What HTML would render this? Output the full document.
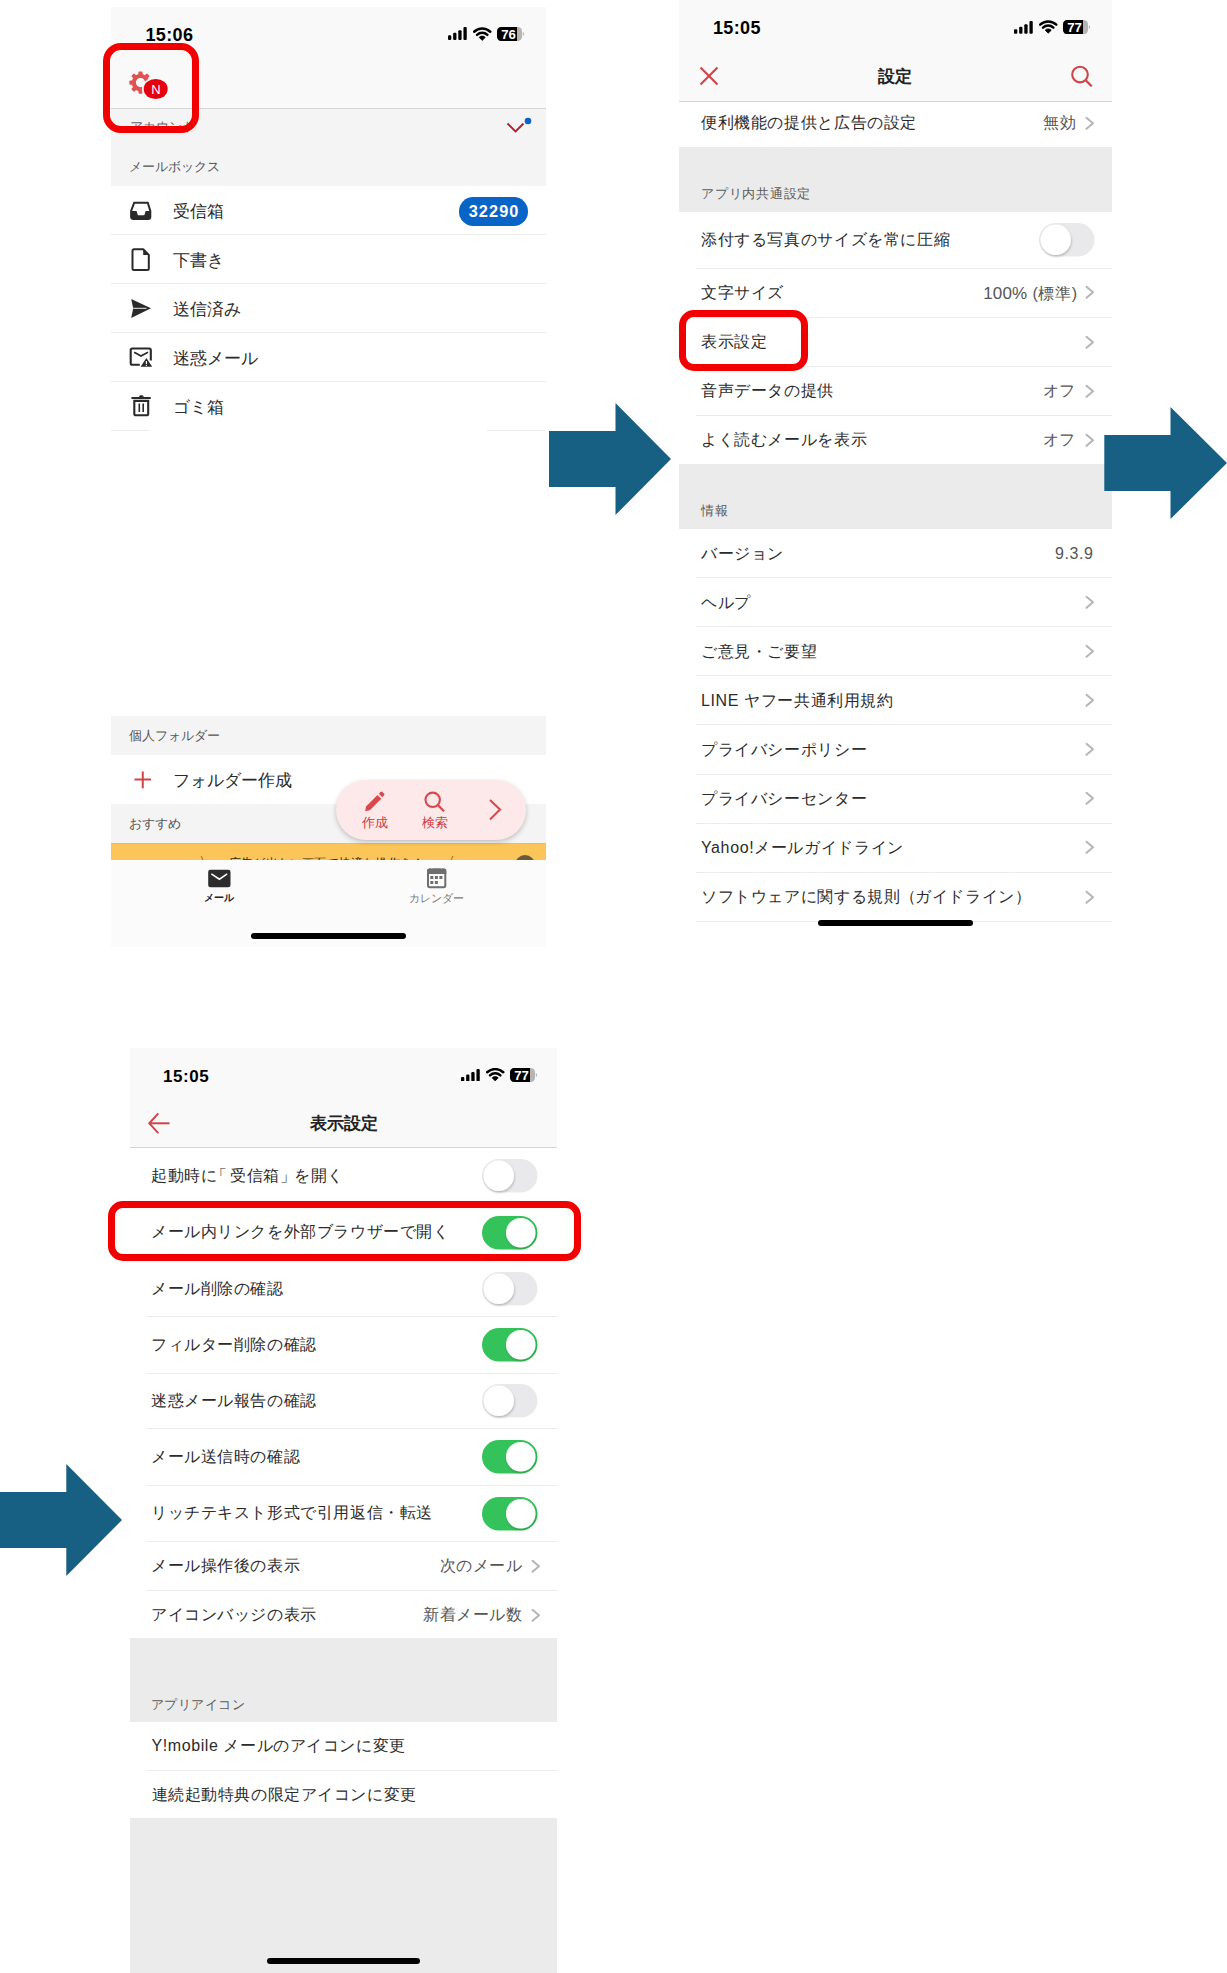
<!DOCTYPE html><html lang="ja"><head><meta charset="utf-8"><title>mail settings</title>
<style>html,body{margin:0;padding:0;background:#fff;} body{width:1227px;height:1973px;position:relative;overflow:hidden;font-family:"Liberation Sans", sans-serif;}</style></head><body>
<div style="position:absolute;left:111px;top:7px;width:435px;height:101px;background:#f9f9f9;"></div>
<div style="position:absolute;left:111px;top:108px;width:435px;height:1px;background:#d5d5d5;"></div>
<div style="position:absolute;left:111px;top:109px;width:435px;height:77px;background:#f4f4f4;"></div>
<div style="position:absolute;left:111px;top:186px;width:435px;height:530px;background:#ffffff;"></div>
<div style="position:absolute;left:111px;top:234px;width:435px;height:1px;background:#ebebeb;"></div>
<div style="position:absolute;left:111px;top:283px;width:435px;height:1px;background:#ebebeb;"></div>
<div style="position:absolute;left:111px;top:332px;width:435px;height:1px;background:#ebebeb;"></div>
<div style="position:absolute;left:111px;top:381px;width:435px;height:1px;background:#ebebeb;"></div>
<div style="position:absolute;left:111px;top:430px;width:39px;height:1px;background:#ebebeb;"></div>
<div style="position:absolute;left:487px;top:430px;width:59px;height:1px;background:#ebebeb;"></div>
<div style="position:absolute;left:111px;top:716px;width:435px;height:39px;background:#f4f4f4;"></div>
<div style="position:absolute;left:111px;top:755px;width:435px;height:49px;background:#ffffff;"></div>
<div style="position:absolute;left:111px;top:804px;width:435px;height:39px;background:#f4f4f4;"></div>
<div style="position:absolute;left:111px;top:843px;width:435px;height:17px;background:#fcc55a;"></div>
<div style="position:absolute;left:111px;top:843px;width:435px;height:1px;background:#ebbd62;"></div>
<div style="position:absolute;left:111px;top:860px;width:435px;height:87px;background:#fbfbfb;"></div>
<div style="position:absolute;left:251px;top:933px;width:155px;height:5.5px;background:#000;border-radius:3px"></div>
<div style="position:absolute;left:145.5px;top:25.53px;font-size:18px;line-height:18px;color:#000;font-weight:bold;white-space:nowrap;letter-spacing:0.35px;">15:06</div>
<svg style="position:absolute;left:448px;top:27.3px;" width="20" height="12.999999999999996" viewBox="0 0 20 12.999999999999996"><rect x="0.00" y="8.32" width="3.3" height="4.68" rx="1.1" fill="#000"/><rect x="5.15" y="5.85" width="3.3" height="7.15" rx="1.1" fill="#000"/><rect x="10.30" y="3.25" width="3.3" height="9.75" rx="1.1" fill="#000"/><rect x="15.45" y="0.00" width="3.3" height="13.00" rx="1.1" fill="#000"/></svg>
<svg style="position:absolute;left:473px;top:26.6px;" width="19" height="13.999999999999996" viewBox="0 0 19 13.999999999999996"><path d="M9.2 13.399999999999997 L6.16 10.36 A4.3 4.3 0 0 1 12.24 10.36 Z" fill="#000" stroke="#000" stroke-width="0.8" stroke-linejoin="round"/>
<path d="M4.02 7.84 A7.6 7.6 0 0 1 14.38 7.84" stroke="#000" stroke-width="2.5" fill="none" stroke-linecap="round"/>
<path d="M1.15 4.77 A11.8 11.8 0 0 1 17.25 4.77" stroke="#000" stroke-width="2.5" fill="none" stroke-linecap="round"/></svg>
<svg style="position:absolute;left:497px;top:27px;" width="28" height="14" viewBox="0 0 28 14"><rect x="0" y="0" width="25" height="14" rx="4.2" fill="#b5b5b5"/>
<path d="M4.2 0 H20.0 V14 H4.2 A4.2 4.2 0 0 1 0 9.8 V4.2 A4.2 4.2 0 0 1 4.2 0 Z" fill="#000"/>
<path d="M25.8 5.1 A2 2 0 0 1 25.8 8.9 Z" fill="#b5b5b5"/>
<text x="11.5" y="11.6" font-family="Liberation Sans" font-weight="bold" font-size="13.2" fill="#fff" text-anchor="middle">76</text></svg>
<svg style="position:absolute;left:128px;top:70px;" width="45" height="35" viewBox="0 0 45 35">
<g transform="translate(12.5,12.6)">
<circle r="6.7" fill="none" stroke="#df5352" stroke-width="4.2"/>
<rect x="-2.1" y="-11.2" width="4.2" height="5" rx="1" transform="rotate(0)" fill="#df5352"/><rect x="-2.1" y="-11.2" width="4.2" height="5" rx="1" transform="rotate(45)" fill="#df5352"/><rect x="-2.1" y="-11.2" width="4.2" height="5" rx="1" transform="rotate(90)" fill="#df5352"/><rect x="-2.1" y="-11.2" width="4.2" height="5" rx="1" transform="rotate(135)" fill="#df5352"/><rect x="-2.1" y="-11.2" width="4.2" height="5" rx="1" transform="rotate(180)" fill="#df5352"/><rect x="-2.1" y="-11.2" width="4.2" height="5" rx="1" transform="rotate(225)" fill="#df5352"/><rect x="-2.1" y="-11.2" width="4.2" height="5" rx="1" transform="rotate(270)" fill="#df5352"/><rect x="-2.1" y="-11.2" width="4.2" height="5" rx="1" transform="rotate(315)" fill="#df5352"/>
</g>
<ellipse cx="27.7" cy="19" rx="13.7" ry="11.8" fill="#f9f9f9"/>
<ellipse cx="27.7" cy="19" rx="12" ry="10.1" fill="#e5000f"/>
<text x="27.9" y="23.7" font-family="Liberation Sans" font-size="13" fill="#fff" text-anchor="middle">N</text>
</svg>
<div style="position:absolute;left:130px;top:120.62px;font-size:12.5px;line-height:12.5px;color:#666;font-weight:normal;white-space:nowrap;">アカウント</div>
<svg style="position:absolute;left:505px;top:116px;" width="28" height="20" viewBox="0 0 28 20"><polyline points="2.5,7.5 10.5,15.5 18.5,7.5" fill="none" stroke="#b01c2e" stroke-width="1.8"/><circle cx="23" cy="5" r="3.3" fill="#0a64c8"/></svg>
<div style="position:absolute;left:129px;top:159.67px;font-size:13px;line-height:13px;color:#555;font-weight:normal;white-space:nowrap;">メールボックス</div>
<div style="position:absolute;left:172.7px;top:202.93px;font-size:17px;line-height:17px;color:#2b2b2b;font-weight:normal;white-space:nowrap;">受信箱</div>
<div style="position:absolute;left:172.7px;top:252.13px;font-size:17px;line-height:17px;color:#2b2b2b;font-weight:normal;white-space:nowrap;">下書き</div>
<div style="position:absolute;left:172.7px;top:300.93px;font-size:17px;line-height:17px;color:#2b2b2b;font-weight:normal;white-space:nowrap;">送信済み</div>
<div style="position:absolute;left:172.7px;top:349.93px;font-size:17px;line-height:17px;color:#2b2b2b;font-weight:normal;white-space:nowrap;">迷惑メール</div>
<div style="position:absolute;left:172.7px;top:398.73px;font-size:17px;line-height:17px;color:#2b2b2b;font-weight:normal;white-space:nowrap;">ゴミ箱</div>
<svg style="position:absolute;left:130px;top:200px;" width="23" height="21" viewBox="0 0 23 21"><path d="M4.2,2.7 H17.8 L20.3,11 V17 A2 2 0 0 1 18.3,19 H3.1 A2 2 0 0 1 1.1,17 V11 Z" fill="none" stroke="#2a2a2a" stroke-width="2"/>
<path d="M1.1,11 H6.5 L7.9,15.3 H14.3 L15.7,11 H20.3 V17 A2 2 0 0 1 18.3,19 H3.1 A2 2 0 0 1 1.1,17 Z" fill="#2a2a2a"/></svg>
<svg style="position:absolute;left:131px;top:247px;" width="21" height="25" viewBox="0 0 21 25"><path d="M3,2.3 H12.2 L17.8,7.9 V21.5 A1.5 1.5 0 0 1 16.3,23 H3 A1.5 1.5 0 0 1 1.5,21.5 V3.8 A1.5 1.5 0 0 1 3,2.3 Z" fill="none" stroke="#2a2a2a" stroke-width="2" stroke-linejoin="round"/>
<path d="M12.2,2.3 L17.8,7.9 H12.2 Z" fill="#2a2a2a"/></svg>
<svg style="position:absolute;left:130px;top:298px;" width="23" height="22" viewBox="0 0 23 22"><path d="M1.2,0.9 L21,10.3 L1.2,20 L3.2,10.3 Z" fill="#2a2a2a"/><line x1="3.2" y1="10.3" x2="16.5" y2="10.3" stroke="#fff" stroke-width="0.9"/></svg>
<svg style="position:absolute;left:129px;top:347px;" width="25" height="21" viewBox="0 0 25 21"><path d="M10.8,17.7 H3.2 A1.5 1.5 0 0 1 1.7,16.2 V3 A1.5 1.5 0 0 1 3.2,1.5 H20.3 A1.5 1.5 0 0 1 21.8,3 V13.5" fill="none" stroke="#2a2a2a" stroke-width="2.1"/>
<polyline points="5.2,5.2 12,9 19,5.2" fill="none" stroke="#2a2a2a" stroke-width="1.7"/>
<path d="M17.4,11 L23.2,19.7 H11.6 Z" fill="#2a2a2a"/><rect x="16.8" y="14" width="1.2" height="3" fill="#fff"/><rect x="16.8" y="17.8" width="1.2" height="1.1" fill="#fff"/></svg>
<svg style="position:absolute;left:131px;top:394px;" width="21" height="25" viewBox="0 0 21 25"><line x1="1.2" y1="4.1" x2="19" y2="4.1" stroke="#2a2a2a" stroke-width="2" stroke-linecap="round"/><rect x="8" y="1.2" width="4.6" height="3" rx="1.5" fill="#2a2a2a"/>
<path d="M3.3,6.9 H17.2 V19.8 A1.5 1.5 0 0 1 15.7,21.3 H4.8 A1.5 1.5 0 0 1 3.3,19.8 Z" fill="none" stroke="#2a2a2a" stroke-width="2.1"/>
<line x1="8.3" y1="9.5" x2="8.3" y2="18" stroke="#2a2a2a" stroke-width="1.6"/><line x1="12.2" y1="9.5" x2="12.2" y2="18" stroke="#2a2a2a" stroke-width="1.6"/></svg>
<div style="position:absolute;left:459px;top:197px;width:69px;height:28.5px;border-radius:14.25px;background:#0964c7;"></div>
<div style="position:absolute;left:294.1px;width:400px;text-align:center;top:203.46px;font-size:16.3px;line-height:16.3px;color:#fff;font-weight:bold;white-space:nowrap;letter-spacing:1.1px;">32290</div>
<div style="position:absolute;left:128.5px;top:728.97px;font-size:13px;line-height:13px;color:#555;font-weight:normal;white-space:nowrap;">個人フォルダー</div>
<svg style="position:absolute;left:133px;top:770px;" width="20" height="20" viewBox="0 0 20 20"><line x1="1.5" y1="9.5" x2="18" y2="9.5" stroke="#cf4448" stroke-width="2"/><line x1="9.75" y1="1.5" x2="9.75" y2="18.3" stroke="#cf4448" stroke-width="2"/></svg>
<div style="position:absolute;left:172.7px;top:772.33px;font-size:17px;line-height:17px;color:#2b2b2b;font-weight:normal;white-space:nowrap;">フォルダー作成</div>
<div style="position:absolute;left:128.5px;top:817.27px;font-size:13px;line-height:13px;color:#555;font-weight:normal;white-space:nowrap;">おすすめ</div>
<div style="position:absolute;left:111px;top:843px;width:435px;height:17px;overflow:hidden;"><div style="position:absolute;left:88px;top:12px;font-size:14px;line-height:14px;color:#3a2a00;white-space:nowrap">〉</div><div style="position:absolute;left:118px;top:12.5px;font-size:12px;line-height:14px;letter-spacing:0.2px;color:#3a2a00;white-space:nowrap">広告が出ない画面で快適な操作を！</div><div style="position:absolute;left:330px;top:12px;font-size:14px;line-height:14px;color:#3a2a00;white-space:nowrap">〈</div><div style="position:absolute;left:404px;top:12px;width:20px;height:20px;border-radius:10px;background:#6b5a3a"></div></div>
<svg style="position:absolute;left:207px;top:869px;" width="25" height="20" viewBox="0 0 25 20"><rect x="1.2" y="0.8" width="22.3" height="17.5" rx="2.3" fill="#2d2d2d"/><polyline points="4.3,4.9 12.4,10.2 20.2,4.9" fill="none" stroke="#fff" stroke-width="1.6"/></svg>
<div style="position:absolute;left:19.400000000000006px;width:400px;text-align:center;top:893.40px;font-size:10px;line-height:10px;color:#222;font-weight:bold;white-space:nowrap;">メール</div>
<svg style="position:absolute;left:426px;top:867px;" width="22" height="22" viewBox="0 0 22 22"><path d="M1,4 A2.5 2.5 0 0 1 3.5,1.5 H17.8 A2.5 2.5 0 0 1 20.3,4 V7 H1 Z" fill="#6e6e6e"/><rect x="5" y="0" width="1.6" height="2.6" fill="#fbfbfb"/><rect x="14.7" y="0" width="1.6" height="2.6" fill="#fbfbfb"/>
<rect x="2" y="2.5" width="17.3" height="17.8" rx="1.8" fill="none" stroke="#6e6e6e" stroke-width="2"/>
<rect x="4.3" y="9" width="3" height="3" fill="#6e6e6e"/><rect x="8.9" y="9" width="3" height="3" fill="#6e6e6e"/><rect x="13.4" y="9" width="3" height="3" fill="#6e6e6e"/>
<rect x="4.3" y="14" width="3" height="3" fill="#6e6e6e"/><rect x="8.9" y="14" width="3" height="3" fill="#6e6e6e"/></svg>
<div style="position:absolute;left:236.5px;width:400px;text-align:center;top:892.69px;font-size:10.8px;line-height:10.8px;color:#7a7a7a;font-weight:normal;white-space:nowrap;">カレンダー</div>
<div style="position:absolute;left:336px;top:780px;width:189.5px;height:60px;border-radius:30px;background:#fde9e9;box-shadow:0 2px 5px rgba(0,0,0,0.22);"></div>
<svg style="position:absolute;left:362px;top:790px;" width="25" height="24" viewBox="0 0 25 24"><path d="M4,16.5 L15.5,5 L19.3,8.8 L7.8,20.3 L3.2,21.3 Z" fill="#d64a4e"/><path d="M16.8,3.7 L18.5,2 A1.4 1.4 0 0 1 20.5,2 L22,3.5 A1.4 1.4 0 0 1 22,5.5 L20.3,7.2 Z" fill="#d64a4e"/></svg>
<div style="position:absolute;left:174.5px;width:400px;text-align:center;top:815.67px;font-size:13px;line-height:13px;color:#c9393f;font-weight:normal;white-space:nowrap;">作成</div>
<svg style="position:absolute;left:422px;top:790px;" width="26" height="24" viewBox="0 0 26 24"><circle cx="10.7" cy="9.8" r="7.2" fill="none" stroke="#d64a4e" stroke-width="2.1"/><line x1="15.8" y1="15" x2="22" y2="21.3" stroke="#d64a4e" stroke-width="2.3"/></svg>
<div style="position:absolute;left:234.7px;width:400px;text-align:center;top:815.87px;font-size:13px;line-height:13px;color:#c9393f;font-weight:normal;white-space:nowrap;">検索</div>
<svg style="position:absolute;left:487px;top:797px;" width="17" height="26" viewBox="0 0 17 26"><polyline points="3,3 13,12.6 3,22.5" fill="none" stroke="#d64a4e" stroke-width="2.1"/></svg>
<div style="position:absolute;left:103px;top:42.5px;width:96px;height:90.0px;box-sizing:border-box;border:7px solid #f20000;border-radius:18px;"></div>
<div style="position:absolute;left:679px;top:0px;width:432.5px;height:100.5px;background:#f9f9f9;"></div>
<div style="position:absolute;left:679px;top:100.5px;width:432.5px;height:1.0px;background:#d5d5d5;"></div>
<div style="position:absolute;left:679px;top:101.5px;width:432.5px;height:45.69999999999999px;background:#ffffff;"></div>
<div style="position:absolute;left:679px;top:147.2px;width:432.5px;height:64.5px;background:#ebebeb;"></div>
<div style="position:absolute;left:679px;top:211.7px;width:432.5px;height:252.3px;background:#ffffff;"></div>
<div style="position:absolute;left:696px;top:267.6px;width:415.5px;height:1.0px;background:#ebebeb;"></div>
<div style="position:absolute;left:696px;top:317px;width:415.5px;height:1px;background:#ebebeb;"></div>
<div style="position:absolute;left:696px;top:366.2px;width:415.5px;height:1.0px;background:#ebebeb;"></div>
<div style="position:absolute;left:696px;top:415.2px;width:415.5px;height:1.0px;background:#ebebeb;"></div>
<div style="position:absolute;left:679px;top:464px;width:432.5px;height:64.70000000000005px;background:#ebebeb;"></div>
<div style="position:absolute;left:679px;top:528.7px;width:432.5px;height:392.79999999999995px;background:#ffffff;"></div>
<div style="position:absolute;left:696px;top:577.2px;width:415.5px;height:1.0px;background:#ebebeb;"></div>
<div style="position:absolute;left:696px;top:626.2px;width:415.5px;height:1.0px;background:#ebebeb;"></div>
<div style="position:absolute;left:696px;top:675.3px;width:415.5px;height:1.0px;background:#ebebeb;"></div>
<div style="position:absolute;left:696px;top:724.4px;width:415.5px;height:1.0px;background:#ebebeb;"></div>
<div style="position:absolute;left:696px;top:773.5px;width:415.5px;height:1.0px;background:#ebebeb;"></div>
<div style="position:absolute;left:696px;top:822.6px;width:415.5px;height:1.0px;background:#ebebeb;"></div>
<div style="position:absolute;left:696px;top:871.7px;width:415.5px;height:1.0px;background:#ebebeb;"></div>
<div style="position:absolute;left:696px;top:920.8px;width:415.5px;height:1.0px;background:#ebebeb;"></div>
<div style="position:absolute;left:818px;top:920.3px;width:154.5px;height:6.2000000000000455px;background:#000;border-radius:3px"></div>
<div style="position:absolute;left:713.0px;top:18.73px;font-size:18px;line-height:18px;color:#000;font-weight:bold;white-space:nowrap;letter-spacing:0.35px;">15:05</div>
<svg style="position:absolute;left:1014px;top:21.0px;" width="20" height="12.799999999999997" viewBox="0 0 20 12.799999999999997"><rect x="0.00" y="8.19" width="3.3" height="4.61" rx="1.1" fill="#000"/><rect x="5.15" y="5.76" width="3.3" height="7.04" rx="1.1" fill="#000"/><rect x="10.30" y="3.20" width="3.3" height="9.60" rx="1.1" fill="#000"/><rect x="15.45" y="0.00" width="3.3" height="12.80" rx="1.1" fill="#000"/></svg>
<svg style="position:absolute;left:1039px;top:20.3px;" width="19" height="13.799999999999997" viewBox="0 0 19 13.799999999999997"><path d="M9.2 13.199999999999998 L6.16 10.16 A4.3 4.3 0 0 1 12.24 10.16 Z" fill="#000" stroke="#000" stroke-width="0.8" stroke-linejoin="round"/>
<path d="M4.02 7.64 A7.6 7.6 0 0 1 14.38 7.64" stroke="#000" stroke-width="2.5" fill="none" stroke-linecap="round"/>
<path d="M1.15 4.57 A11.8 11.8 0 0 1 17.25 4.57" stroke="#000" stroke-width="2.5" fill="none" stroke-linecap="round"/></svg>
<svg style="position:absolute;left:1063.2px;top:20px;" width="28" height="14.200000000000003" viewBox="0 0 28 14.200000000000003"><rect x="0" y="0" width="25" height="14.200000000000003" rx="4.2" fill="#b5b5b5"/>
<path d="M4.2 0 H20.0 V14.200000000000003 H4.2 A4.2 4.2 0 0 1 0 10.000000000000004 V4.2 A4.2 4.2 0 0 1 4.2 0 Z" fill="#000"/>
<path d="M25.8 5.200000000000001 A2 2 0 0 1 25.8 9.000000000000002 Z" fill="#b5b5b5"/>
<text x="11.5" y="11.800000000000002" font-family="Liberation Sans" font-weight="bold" font-size="13.2" fill="#fff" text-anchor="middle">77</text></svg>
<svg style="position:absolute;left:699px;top:66px;" width="20" height="20" viewBox="0 0 20 20"><line x1="1.5" y1="1.5" x2="18.5" y2="18.5" stroke="#cf4448" stroke-width="2.1"/><line x1="18.5" y1="1.5" x2="1.5" y2="18.5" stroke="#cf4448" stroke-width="2.1"/></svg>
<div style="position:absolute;left:695px;width:400px;text-align:center;top:67.68px;font-size:17.3px;line-height:17.3px;color:#222;font-weight:bold;white-space:nowrap;">設定</div>
<svg style="position:absolute;left:1070px;top:65px;" width="24" height="24" viewBox="0 0 24 24"><circle cx="10" cy="9.6" r="7.8" fill="none" stroke="#cf4448" stroke-width="2.1"/><line x1="15.7" y1="15.3" x2="21.7" y2="21.3" stroke="#cf4448" stroke-width="2.3"/></svg>
<div style="position:absolute;left:701px;top:115.14px;font-size:16px;line-height:16px;color:#2b2b2b;font-weight:normal;white-space:nowrap;letter-spacing:0.62px;">便利機能の提供と広告の設定</div>
<div style="position:absolute;right:150.38px;top:115.34px;font-size:16px;line-height:16px;color:#555;font-weight:normal;white-space:nowrap;letter-spacing:0.62px;">無効</div>
<svg style="position:absolute;left:1085px;top:116px;" width="10" height="15" viewBox="0 0 10 15"><polyline points="1.5,1.8 8,7.2 1.5,12.8" fill="none" stroke="#b6b6b8" stroke-width="2.1" stroke-linecap="round" stroke-linejoin="round"/></svg>
<div style="position:absolute;left:701px;top:187.07px;font-size:13px;line-height:13px;color:#5a5a5a;font-weight:normal;white-space:nowrap;letter-spacing:0.75px;">アプリ内共通設定</div>
<div style="position:absolute;left:701px;top:232.14px;font-size:16px;line-height:16px;color:#2b2b2b;font-weight:normal;white-space:nowrap;letter-spacing:0.62px;">添付する写真のサイズを常に圧縮</div>
<svg style="position:absolute;left:1038.5px;top:223px;overflow:visible" width="55.5" height="33.5" viewBox="0 0 55.5 33.5"><defs><filter id="ks" x="-50%" y="-50%" width="200%" height="200%"><feDropShadow dx="0.6" dy="1.6" stdDeviation="1.3" flood-color="#000" flood-opacity="0.22"/></filter></defs><rect x="0" y="0" width="55.5" height="33.5" rx="16.75" fill="#e9e9eb"/><circle cx="16.75" cy="16.75" r="15.15" fill="#fff" filter="url(#ks)"/></svg>
<div style="position:absolute;left:701px;top:285.34px;font-size:16px;line-height:16px;color:#2b2b2b;font-weight:normal;white-space:nowrap;letter-spacing:0.62px;">文字サイズ</div>
<div style="position:absolute;right:149.38px;top:285.84px;font-size:16px;line-height:16px;color:#555;font-weight:normal;white-space:nowrap;letter-spacing:0.62px;"><span style="font-size:17px;letter-spacing:0.2px">100%</span> (標準)</div>
<svg style="position:absolute;left:1085px;top:285px;" width="10" height="15" viewBox="0 0 10 15"><polyline points="1.5,1.8 8,7.2 1.5,12.8" fill="none" stroke="#b6b6b8" stroke-width="2.1" stroke-linecap="round" stroke-linejoin="round"/></svg>
<div style="position:absolute;left:701px;top:334.34px;font-size:16px;line-height:16px;color:#2b2b2b;font-weight:normal;white-space:nowrap;letter-spacing:0.62px;">表示設定</div>
<svg style="position:absolute;left:1085px;top:334.5px;" width="10" height="15" viewBox="0 0 10 15"><polyline points="1.5,1.8 8,7.2 1.5,12.8" fill="none" stroke="#b6b6b8" stroke-width="2.1" stroke-linecap="round" stroke-linejoin="round"/></svg>
<div style="position:absolute;left:701px;top:383.34px;font-size:16px;line-height:16px;color:#2b2b2b;font-weight:normal;white-space:nowrap;letter-spacing:0.62px;">音声データの提供</div>
<div style="position:absolute;right:150.88px;top:383.34px;font-size:16px;line-height:16px;color:#555;font-weight:normal;white-space:nowrap;letter-spacing:0.62px;">オフ</div>
<svg style="position:absolute;left:1085px;top:383.5px;" width="10" height="15" viewBox="0 0 10 15"><polyline points="1.5,1.8 8,7.2 1.5,12.8" fill="none" stroke="#b6b6b8" stroke-width="2.1" stroke-linecap="round" stroke-linejoin="round"/></svg>
<div style="position:absolute;left:701px;top:432.34px;font-size:16px;line-height:16px;color:#2b2b2b;font-weight:normal;white-space:nowrap;letter-spacing:0.62px;">よく読むメールを表示</div>
<div style="position:absolute;right:150.88px;top:432.34px;font-size:16px;line-height:16px;color:#555;font-weight:normal;white-space:nowrap;letter-spacing:0.62px;">オフ</div>
<svg style="position:absolute;left:1085px;top:432.5px;" width="10" height="15" viewBox="0 0 10 15"><polyline points="1.5,1.8 8,7.2 1.5,12.8" fill="none" stroke="#b6b6b8" stroke-width="2.1" stroke-linecap="round" stroke-linejoin="round"/></svg>
<div style="position:absolute;left:701px;top:504.17px;font-size:13px;line-height:13px;color:#5a5a5a;font-weight:normal;white-space:nowrap;letter-spacing:0.75px;">情報</div>
<div style="position:absolute;left:701px;top:545.84px;font-size:16px;line-height:16px;color:#2b2b2b;font-weight:normal;white-space:nowrap;letter-spacing:0.62px;">バージョン</div>
<div style="position:absolute;left:701px;top:594.64px;font-size:16px;line-height:16px;color:#2b2b2b;font-weight:normal;white-space:nowrap;letter-spacing:0.62px;">ヘルプ</div>
<div style="position:absolute;left:701px;top:643.84px;font-size:16px;line-height:16px;color:#2b2b2b;font-weight:normal;white-space:nowrap;letter-spacing:0.62px;">ご意見・ご要望</div>
<div style="position:absolute;left:701px;top:692.94px;font-size:16px;line-height:16px;color:#2b2b2b;font-weight:normal;white-space:nowrap;letter-spacing:0.62px;">LINE ヤフー共通利用規約</div>
<div style="position:absolute;left:701px;top:741.94px;font-size:16px;line-height:16px;color:#2b2b2b;font-weight:normal;white-space:nowrap;letter-spacing:0.62px;">プライバシーポリシー</div>
<div style="position:absolute;left:701px;top:791.14px;font-size:16px;line-height:16px;color:#2b2b2b;font-weight:normal;white-space:nowrap;letter-spacing:0.62px;">プライバシーセンター</div>
<div style="position:absolute;left:701px;top:840.14px;font-size:16px;line-height:16px;color:#2b2b2b;font-weight:normal;white-space:nowrap;letter-spacing:0.62px;">Yahoo!メールガイドライン</div>
<div style="position:absolute;left:701px;top:889.34px;font-size:16px;line-height:16px;color:#2b2b2b;font-weight:normal;white-space:nowrap;letter-spacing:0.62px;">ソフトウェアに関する規則<span style="margin-right:-2px">（</span>ガイドライン）</div>
<div style="position:absolute;right:133.38px;top:545.84px;font-size:16px;line-height:16px;color:#555;font-weight:normal;white-space:nowrap;letter-spacing:0.62px;">9.3.9</div>
<svg style="position:absolute;left:1085px;top:594.8px;" width="10" height="15" viewBox="0 0 10 15"><polyline points="1.5,1.8 8,7.2 1.5,12.8" fill="none" stroke="#b6b6b8" stroke-width="2.1" stroke-linecap="round" stroke-linejoin="round"/></svg>
<svg style="position:absolute;left:1085px;top:644.0px;" width="10" height="15" viewBox="0 0 10 15"><polyline points="1.5,1.8 8,7.2 1.5,12.8" fill="none" stroke="#b6b6b8" stroke-width="2.1" stroke-linecap="round" stroke-linejoin="round"/></svg>
<svg style="position:absolute;left:1085px;top:693.1px;" width="10" height="15" viewBox="0 0 10 15"><polyline points="1.5,1.8 8,7.2 1.5,12.8" fill="none" stroke="#b6b6b8" stroke-width="2.1" stroke-linecap="round" stroke-linejoin="round"/></svg>
<svg style="position:absolute;left:1085px;top:742.1px;" width="10" height="15" viewBox="0 0 10 15"><polyline points="1.5,1.8 8,7.2 1.5,12.8" fill="none" stroke="#b6b6b8" stroke-width="2.1" stroke-linecap="round" stroke-linejoin="round"/></svg>
<svg style="position:absolute;left:1085px;top:791.3px;" width="10" height="15" viewBox="0 0 10 15"><polyline points="1.5,1.8 8,7.2 1.5,12.8" fill="none" stroke="#b6b6b8" stroke-width="2.1" stroke-linecap="round" stroke-linejoin="round"/></svg>
<svg style="position:absolute;left:1085px;top:840.3px;" width="10" height="15" viewBox="0 0 10 15"><polyline points="1.5,1.8 8,7.2 1.5,12.8" fill="none" stroke="#b6b6b8" stroke-width="2.1" stroke-linecap="round" stroke-linejoin="round"/></svg>
<svg style="position:absolute;left:1085px;top:889.5px;" width="10" height="15" viewBox="0 0 10 15"><polyline points="1.5,1.8 8,7.2 1.5,12.8" fill="none" stroke="#b6b6b8" stroke-width="2.1" stroke-linecap="round" stroke-linejoin="round"/></svg>
<div style="position:absolute;left:678.5px;top:309.6px;width:129.5px;height:61.39999999999998px;box-sizing:border-box;border:7px solid #f20000;border-radius:15px;"></div>
<div style="position:absolute;left:130px;top:1048px;width:427.20000000000005px;height:99.20000000000005px;background:#f9f9f9;"></div>
<div style="position:absolute;left:130px;top:1147.2px;width:427.20000000000005px;height:1.0px;background:#d5d5d5;"></div>
<div style="position:absolute;left:130px;top:1148.2px;width:427.20000000000005px;height:489.79999999999995px;background:#ffffff;"></div>
<div style="position:absolute;left:147px;top:1204px;width:410.20000000000005px;height:1px;background:#ebebeb;"></div>
<div style="position:absolute;left:147px;top:1260px;width:410.20000000000005px;height:1px;background:#ebebeb;"></div>
<div style="position:absolute;left:147px;top:1316.2px;width:410.20000000000005px;height:1.0px;background:#ebebeb;"></div>
<div style="position:absolute;left:147px;top:1372.5px;width:410.20000000000005px;height:1.0px;background:#ebebeb;"></div>
<div style="position:absolute;left:147px;top:1428.2px;width:410.20000000000005px;height:1.0px;background:#ebebeb;"></div>
<div style="position:absolute;left:147px;top:1485.3px;width:410.20000000000005px;height:1.0px;background:#ebebeb;"></div>
<div style="position:absolute;left:147px;top:1541.4px;width:410.20000000000005px;height:1.0px;background:#ebebeb;"></div>
<div style="position:absolute;left:147px;top:1589.8px;width:410.20000000000005px;height:1.0px;background:#ebebeb;"></div>
<div style="position:absolute;left:130px;top:1638px;width:427.20000000000005px;height:83.70000000000005px;background:#ebebeb;"></div>
<div style="position:absolute;left:130px;top:1721.7px;width:427.20000000000005px;height:96.09999999999991px;background:#ffffff;"></div>
<div style="position:absolute;left:147px;top:1770px;width:410.20000000000005px;height:1px;background:#ebebeb;"></div>
<div style="position:absolute;left:130px;top:1817.8px;width:427.20000000000005px;height:155.20000000000005px;background:#ebebeb;"></div>
<div style="position:absolute;left:267px;top:1958px;width:153px;height:6.2999999999999545px;background:#000;border-radius:3px"></div>
<div style="position:absolute;left:163.1px;top:1067.62px;font-size:17px;line-height:17px;color:#000;font-weight:bold;white-space:nowrap;letter-spacing:0.55px;">15:05</div>
<svg style="position:absolute;left:461.2px;top:1068.6px;" width="20" height="12.5" viewBox="0 0 20 12.5"><rect x="0.00" y="8.00" width="3.3" height="4.50" rx="1.1" fill="#000"/><rect x="5.15" y="5.62" width="3.3" height="6.88" rx="1.1" fill="#000"/><rect x="10.30" y="3.12" width="3.3" height="9.38" rx="1.1" fill="#000"/><rect x="15.45" y="0.00" width="3.3" height="12.50" rx="1.1" fill="#000"/></svg>
<svg style="position:absolute;left:486.3px;top:1067.8999999999999px;" width="19" height="13.5" viewBox="0 0 19 13.5"><path d="M9.2 12.9 L6.16 9.86 A4.3 4.3 0 0 1 12.24 9.86 Z" fill="#000" stroke="#000" stroke-width="0.8" stroke-linejoin="round"/>
<path d="M4.02 7.34 A7.6 7.6 0 0 1 14.38 7.34" stroke="#000" stroke-width="2.5" fill="none" stroke-linecap="round"/>
<path d="M1.15 4.27 A11.8 11.8 0 0 1 17.25 4.27" stroke="#000" stroke-width="2.5" fill="none" stroke-linecap="round"/></svg>
<svg style="position:absolute;left:509.6px;top:1068px;" width="28" height="14" viewBox="0 0 28 14"><rect x="0" y="0" width="25" height="14" rx="4.2" fill="#b5b5b5"/>
<path d="M4.2 0 H20.0 V14 H4.2 A4.2 4.2 0 0 1 0 9.8 V4.2 A4.2 4.2 0 0 1 4.2 0 Z" fill="#000"/>
<path d="M25.8 5.1 A2 2 0 0 1 25.8 8.9 Z" fill="#b5b5b5"/>
<text x="11.5" y="11.6" font-family="Liberation Sans" font-weight="bold" font-size="13.2" fill="#fff" text-anchor="middle">77</text></svg>
<svg style="position:absolute;left:147px;top:1111px;" width="25" height="24" viewBox="0 0 25 24"><polyline points="11.3,2.3 2.3,12.3 11.3,22.2" fill="none" stroke="#cf4448" stroke-width="2"/><line x1="2.5" y1="12.3" x2="22.5" y2="12.3" stroke="#cf4448" stroke-width="2"/></svg>
<div style="position:absolute;left:143.5px;width:400px;text-align:center;top:1115.18px;font-size:17.3px;line-height:17.3px;color:#222;font-weight:bold;white-space:nowrap;">表示設定</div>
<div style="position:absolute;left:151px;top:1167.54px;font-size:16px;line-height:16px;color:#2b2b2b;font-weight:normal;white-space:nowrap;letter-spacing:0.58px;">起動時に<span style="margin-left:-6px;margin-right:2px">「</span>受信箱<span style="margin-right:-2px">」</span>を開く</div>
<svg style="position:absolute;left:481.7px;top:1159.0px;overflow:visible" width="55.5" height="33.5" viewBox="0 0 55.5 33.5"><defs><filter id="ks" x="-50%" y="-50%" width="200%" height="200%"><feDropShadow dx="0.6" dy="1.6" stdDeviation="1.3" flood-color="#000" flood-opacity="0.22"/></filter></defs><rect x="0" y="0" width="55.5" height="33.5" rx="16.75" fill="#e9e9eb"/><circle cx="16.75" cy="16.75" r="15.15" fill="#fff" filter="url(#ks)"/></svg>
<div style="position:absolute;left:151px;top:1224.14px;font-size:16px;line-height:16px;color:#2b2b2b;font-weight:normal;white-space:nowrap;letter-spacing:0.58px;">メール内リンクを外部ブラウザーで開く</div>
<svg style="position:absolute;left:481.7px;top:1215.6px;overflow:visible" width="55.5" height="33.5" viewBox="0 0 55.5 33.5"><defs><filter id="ks" x="-50%" y="-50%" width="200%" height="200%"><feDropShadow dx="0.6" dy="1.6" stdDeviation="1.3" flood-color="#000" flood-opacity="0.22"/></filter></defs><rect x="0" y="0" width="55.5" height="33.5" rx="16.75" fill="#34c35a"/><circle cx="38.75" cy="16.75" r="14.75" fill="#fff" filter="url(#ks)"/></svg>
<div style="position:absolute;left:151px;top:1280.54px;font-size:16px;line-height:16px;color:#2b2b2b;font-weight:normal;white-space:nowrap;letter-spacing:0.58px;">メール削除の確認</div>
<svg style="position:absolute;left:481.7px;top:1272.0px;overflow:visible" width="55.5" height="33.5" viewBox="0 0 55.5 33.5"><defs><filter id="ks" x="-50%" y="-50%" width="200%" height="200%"><feDropShadow dx="0.6" dy="1.6" stdDeviation="1.3" flood-color="#000" flood-opacity="0.22"/></filter></defs><rect x="0" y="0" width="55.5" height="33.5" rx="16.75" fill="#e9e9eb"/><circle cx="16.75" cy="16.75" r="15.15" fill="#fff" filter="url(#ks)"/></svg>
<div style="position:absolute;left:151px;top:1336.94px;font-size:16px;line-height:16px;color:#2b2b2b;font-weight:normal;white-space:nowrap;letter-spacing:0.58px;">フィルター削除の確認</div>
<svg style="position:absolute;left:481.7px;top:1328.3999999999999px;overflow:visible" width="55.5" height="33.5" viewBox="0 0 55.5 33.5"><defs><filter id="ks" x="-50%" y="-50%" width="200%" height="200%"><feDropShadow dx="0.6" dy="1.6" stdDeviation="1.3" flood-color="#000" flood-opacity="0.22"/></filter></defs><rect x="0" y="0" width="55.5" height="33.5" rx="16.75" fill="#34c35a"/><circle cx="38.75" cy="16.75" r="14.75" fill="#fff" filter="url(#ks)"/></svg>
<div style="position:absolute;left:151px;top:1392.64px;font-size:16px;line-height:16px;color:#2b2b2b;font-weight:normal;white-space:nowrap;letter-spacing:0.58px;">迷惑メール報告の確認</div>
<svg style="position:absolute;left:481.7px;top:1384.1px;overflow:visible" width="55.5" height="33.5" viewBox="0 0 55.5 33.5"><defs><filter id="ks" x="-50%" y="-50%" width="200%" height="200%"><feDropShadow dx="0.6" dy="1.6" stdDeviation="1.3" flood-color="#000" flood-opacity="0.22"/></filter></defs><rect x="0" y="0" width="55.5" height="33.5" rx="16.75" fill="#e9e9eb"/><circle cx="16.75" cy="16.75" r="15.15" fill="#fff" filter="url(#ks)"/></svg>
<div style="position:absolute;left:151px;top:1448.84px;font-size:16px;line-height:16px;color:#2b2b2b;font-weight:normal;white-space:nowrap;letter-spacing:0.58px;">メール送信時の確認</div>
<svg style="position:absolute;left:481.7px;top:1440.3px;overflow:visible" width="55.5" height="33.5" viewBox="0 0 55.5 33.5"><defs><filter id="ks" x="-50%" y="-50%" width="200%" height="200%"><feDropShadow dx="0.6" dy="1.6" stdDeviation="1.3" flood-color="#000" flood-opacity="0.22"/></filter></defs><rect x="0" y="0" width="55.5" height="33.5" rx="16.75" fill="#34c35a"/><circle cx="38.75" cy="16.75" r="14.75" fill="#fff" filter="url(#ks)"/></svg>
<div style="position:absolute;left:151px;top:1505.24px;font-size:16px;line-height:16px;color:#2b2b2b;font-weight:normal;white-space:nowrap;letter-spacing:0.58px;">リッチテキスト形式で引用返信・転送</div>
<svg style="position:absolute;left:481.7px;top:1496.7px;overflow:visible" width="55.5" height="33.5" viewBox="0 0 55.5 33.5"><defs><filter id="ks" x="-50%" y="-50%" width="200%" height="200%"><feDropShadow dx="0.6" dy="1.6" stdDeviation="1.3" flood-color="#000" flood-opacity="0.22"/></filter></defs><rect x="0" y="0" width="55.5" height="33.5" rx="16.75" fill="#34c35a"/><circle cx="38.75" cy="16.75" r="14.75" fill="#fff" filter="url(#ks)"/></svg>
<div style="position:absolute;left:151px;top:1558.34px;font-size:16px;line-height:16px;color:#2b2b2b;font-weight:normal;white-space:nowrap;letter-spacing:0.58px;">メール操作後の表示</div>
<div style="position:absolute;right:704.42px;top:1558.34px;font-size:16px;line-height:16px;color:#555;font-weight:normal;white-space:nowrap;letter-spacing:0.58px;">次のメール</div>
<svg style="position:absolute;left:531px;top:1559px;" width="10" height="15" viewBox="0 0 10 15"><polyline points="1.5,1.8 8,7.2 1.5,12.8" fill="none" stroke="#b6b6b8" stroke-width="2.1" stroke-linecap="round" stroke-linejoin="round"/></svg>
<div style="position:absolute;left:151px;top:1606.84px;font-size:16px;line-height:16px;color:#2b2b2b;font-weight:normal;white-space:nowrap;letter-spacing:0.58px;">アイコンバッジの表示</div>
<div style="position:absolute;right:704.42px;top:1606.84px;font-size:16px;line-height:16px;color:#555;font-weight:normal;white-space:nowrap;letter-spacing:0.58px;">新着メール数</div>
<svg style="position:absolute;left:531px;top:1607.5px;" width="10" height="15" viewBox="0 0 10 15"><polyline points="1.5,1.8 8,7.2 1.5,12.8" fill="none" stroke="#b6b6b8" stroke-width="2.1" stroke-linecap="round" stroke-linejoin="round"/></svg>
<div style="position:absolute;left:150.5px;top:1697.57px;font-size:13px;line-height:13px;color:#5a5a5a;font-weight:normal;white-space:nowrap;letter-spacing:0.55px;">アプリアイコン</div>
<div style="position:absolute;left:151.5px;top:1737.84px;font-size:16px;line-height:16px;color:#2b2b2b;font-weight:normal;white-space:nowrap;letter-spacing:0.58px;">Y!mobile メールのアイコンに変更</div>
<div style="position:absolute;left:151.5px;top:1786.84px;font-size:16px;line-height:16px;color:#2b2b2b;font-weight:normal;white-space:nowrap;letter-spacing:0.58px;">連続起動特典の限定アイコンに変更</div>
<div style="position:absolute;left:107.6px;top:1200.5px;width:473.6px;height:60.5px;box-sizing:border-box;border:7.5px solid #f20000;border-radius:15px;"></div>
<svg style="position:absolute;left:0px;top:0px;" width="1227" height="1973" viewBox="0 0 1227 1973"><polygon points="549,431 615.5,431 615.5,403 671,459 615.5,515 615.5,487 549,487" fill="#175f83"/></svg>
<svg style="position:absolute;left:0px;top:0px;" width="1227" height="1973" viewBox="0 0 1227 1973"><polygon points="1104.3,435 1170.5,435 1170.5,407 1227,463 1170.5,519 1170.5,491 1104.3,491" fill="#175f83"/></svg>
<svg style="position:absolute;left:0px;top:0px;" width="1227" height="1973" viewBox="0 0 1227 1973"><polygon points="0,1492 66.3,1492 66.3,1464 122,1520 66.3,1576 66.3,1548 0,1548" fill="#175f83"/></svg>
</body></html>
